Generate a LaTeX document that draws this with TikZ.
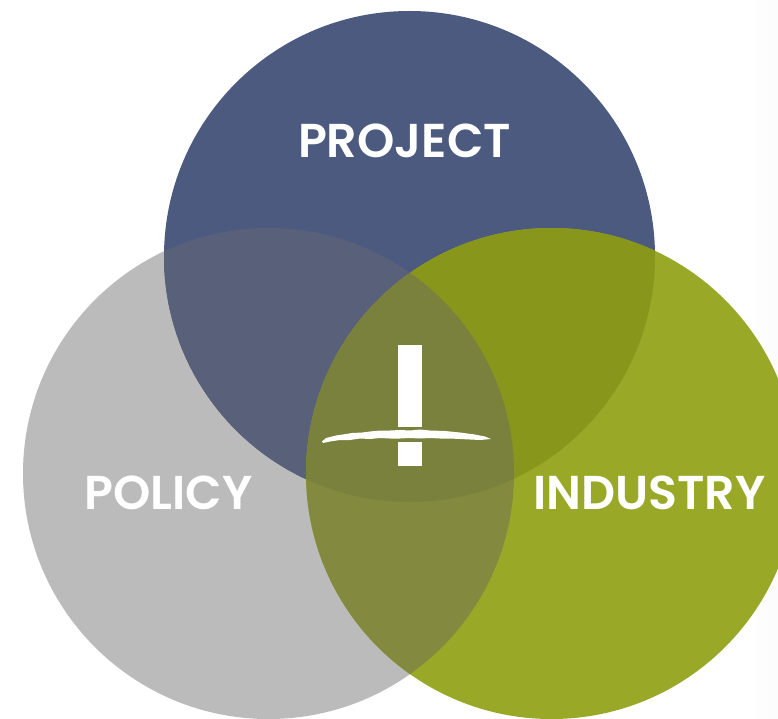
\documentclass[tikz,border=0pt]{standalone}
\usepackage{fontspec}
\setmainfont{Poppins}
\newfontfamily\lblfont{Poppins SemiBold}
\definecolor{cblue}{HTML}{4B5A7E}
\definecolor{cgray}{HTML}{BBBBBB}
\definecolor{cgreen}{HTML}{9AA827}
\definecolor{cbg}{HTML}{59617A}
\definecolor{cbn}{HTML}{88961B}
\definecolor{cgn}{HTML}{838A40}
\definecolor{cmid}{HTML}{7A813C}
\definecolor{cedge}{HTML}{FCFCFC}
\tikzset{
  lbl/.style={text=white,font=\lblfont\fontsize{47.5}{48}\selectfont,inner sep=0pt,anchor=base},
  mark part/.style={fill=white,draw=none}
}
\newcommand{\circP}{(409.5,256.5) circle[radius=245.5]}
\newcommand{\circL}{(268.5,473.5) circle[radius=245.5]}
\newcommand{\circI}{(551.5,473.5) circle[radius=245.5]}
\begin{document}
\begin{tikzpicture}[x=1pt,y=-1pt]
\useasboundingbox (0,0) rectangle (778,719);
\fill[white] (0,0) rectangle (778,719);
\shade[left color=white,right color=cedge,draw=none] (750,0) rectangle (762,719);
\fill[cedge] (762,0) rectangle (778,719);
\fill[cgray] \circL;
\fill[cblue] \circP;
\fill[cgreen] \circI;
\begin{scope}\clip \circL; \fill[cbg] \circP; \end{scope}
\begin{scope}\clip \circP; \fill[cbn] \circI; \end{scope}
\begin{scope}\clip \circL; \fill[cgn] \circI; \end{scope}
\begin{scope}\clip \circL; \clip \circP; \fill[cmid] \circI; \end{scope}
\node[lbl] (project) at (404.5,158) {PROJECT};
\node[lbl] (policy) at (168.5,509) {POLICY};
\node[lbl] (industry) at (649.5,509) {INDUSTRY};
\fill[mark part] (398,345) rectangle (422,427);
\fill[mark part] (398,442) rectangle (422,466);
\fill[mark part] (322,441.5) -- (326,438) -- (336,435.5) -- (346,434) -- (352,433) -- (362,432.5) -- (370,431.5) -- (380,430.5) -- (390,430.5) -- (400,430) -- (410,430.5) -- (420,429.5) -- (430,430.5) -- (445,431) -- (460,432.5) -- (475,434.5) -- (485,436.5) -- (491,439)
 -- (480,440) -- (470,439.5) -- (460,439) -- (450,438.5) -- (440,438.5) -- (430,438) -- (420,438.5) -- (410,438) -- (400,438.5) -- (390,438.5) -- (380,438) -- (370,439) -- (360,438.5) -- (350,440) -- (340,440) -- (330,441.5) -- (323,443) -- cycle;
\end{tikzpicture}
\end{document}
